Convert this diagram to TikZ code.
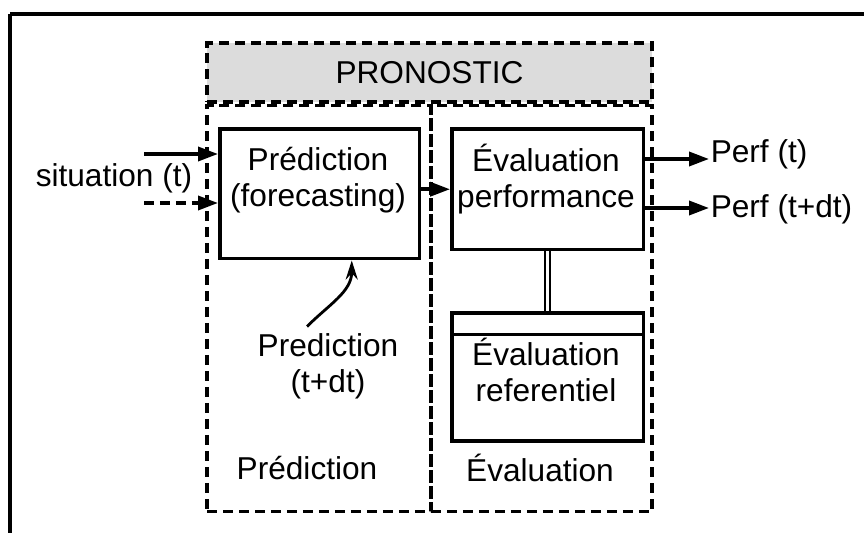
\documentclass[tikz,border=0pt]{standalone}
\usepackage{fontspec}
\setmainfont{Liberation Sans}
\usetikzlibrary{arrows.meta,positioning,calc}
\definecolor{headgray}{RGB}{220,220,220}
\tikzset{
    block/.style={
        rectangle,
        line width=2pt,
        draw=black,
        inner sep=0pt,
    },
    zone/.style={
        rectangle,
        line width=2pt,
        draw=black,
        dash pattern=on 5.7pt off 3.4pt,
        inner sep=0pt,
    },
    txt/.style={
        align=center,
        inner sep=0pt,
        font=\fontsize{18}{20.5}\selectfont,
    },
}

\begin{document}
\begin{tikzpicture}[x=0.02cm,y=-0.02cm,line width=2pt,>={Triangle[length=0.4cm,width=0.28cm]}]
    \useasboundingbox (0,0) rectangle (864,533);
    % frame
    \coordinate (corner) at (10,14);
    \draw (corner) -- (864,14);
    \draw (corner) -- (10,533);

    % zones
    \node [zone,fill=headgray,minimum width=8.9cm,minimum height=1.18cm,font=\fontsize{18}{20.5}\selectfont] (pronostic) at (429.5,72.5) {PRONOSTIC};
    \node [zone,anchor=north west,minimum width=4.48cm,minimum height=8.12cm] (predzone) at (pronostic.south west) {};
    \node [zone,anchor=north east,minimum width=4.42cm,minimum height=8.12cm] (evalzone) at (pronostic.south east) {};

    % blocks
    \node [block,anchor=north west,minimum width=4cm,minimum height=2.6cm] (predbox) at (218,127) {};
    \node [block,anchor=north west,minimum width=3.84cm,minimum height=2.42cm] (evalbox) at (450,127) {};
    \node [block,minimum width=3.84cm,minimum height=2.56cm] (refbox) [below=1.2cm of evalbox] {};
    \draw ($(refbox.north west)+(0,23)$) -- ($(refbox.north east)+(0,23)$);

    \node [txt] (predtxt) at (318,180) {Prédiction\\(forecasting)};
    \node [txt] (evaltxt) at (546,179) {Évaluation\\performance};
    \node [txt] (reftxt) at (546,370) {Évaluation\\referentiel};

    \node [txt] (predname) at (307,468) {Prédiction};
    \node [txt] (evalname) at (540,468) {Évaluation};

    % inputs and outputs
    \node [txt] (situation) at (114,178) {situation (t)};
    \coordinate (sitA) at (144,154);
    \coordinate (sitB) at (144,203);
    \node [txt,anchor=west] (perft) at (709,154) {Perf (t)};
    \node [txt,anchor=west] (perfdt) at (709,209) {Perf (t+dt)};
    \node [txt] (predlbl) at (328,366) {Prediction\\(t+dt)};

    \draw[->] (sitA) -- (sitA -| predbox.west);
    \draw[->,dash pattern=on 5.7pt off 3.4pt] (sitB) -- (sitB -| predbox.west);
    \draw[->] (predbox.east |- evalbox.west) -- (evalbox.west);
    \draw[->] (evalbox.east |- 0,159) -- (perft.west |- 0,159);
    \draw[->] (evalbox.east |- 0,208) -- (perfdt.west |- 0,208);
    \draw[-{Stealth[length=0.38cm,width=0.24cm]},line width=1.6pt] ([xshift=-0.42cm,yshift=0.1cm]predlbl.north) to[out=45,in=-90] ([xshift=0.64cm]predbox.south);
    \draw[double,double distance=0.05cm,line width=1.3pt] (evalbox.south) -- (refbox.north);
\end{tikzpicture}
\end{document}
